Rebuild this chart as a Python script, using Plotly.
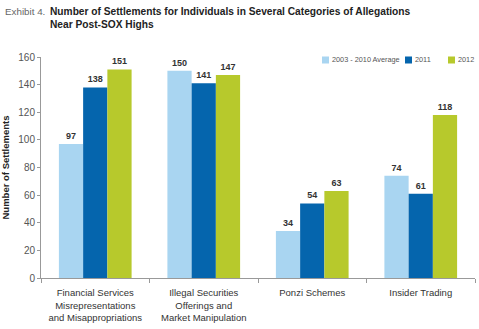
import plotly.graph_objects as go

categories = ["Financial Services<br>Misrepresentations<br>and Misappropriations",
              "Illegal Securities<br>Offerings and<br>Market Manipulation",
              "Ponzi Schemes", "Insider Trading"]
series_names = ["2003 - 2010 Average", "2011", "2012"]
avg_vals = [97, 150, 34, 74]
y2011_vals = [138, 141, 54, 61]
y2012_vals = [151, 147, 63, 118]
colors = ["#a9d5f1", "#0565ad", "#b7c92c"]

W, H = 479, 329
L, R, T, B = 41, 4, 57, 51
PW, PH = W - L - R, H - T - B

def px(x):
    return (x - L) / PW

def py(y):
    return (H - B - y) / PH

fig = go.Figure()
for name, vals, c in zip(series_names, [avg_vals, y2011_vals, y2012_vals], colors):
    fig.add_trace(go.Bar(
        x=categories, y=vals, name=name, marker=dict(color=c, line=dict(width=0)),
        text=[f"<b>{v}</b>" for v in vals], textposition="outside",
        textfont=dict(size=9, color="#333333", family="Liberation Sans"),
        cliponaxis=False, showlegend=False,
    ))

fig.update_layout(
    width=W, height=H,
    margin=dict(l=L, r=R, t=T, b=B),
    paper_bgcolor="white", plot_bgcolor="white",
    barmode="group", bargap=0.33, bargroupgap=0,
    font=dict(family="Liberation Sans", color="#333333"),
    showlegend=False,
)
fig.update_xaxes(
    showline=True, linecolor="#999999", linewidth=1,
    ticks="outside", tickson="boundaries", ticklen=4, tickcolor="#999999",
    tickfont=dict(size=9.5, color="#333333"), ticklabelstandoff=6,
)
fig.update_yaxes(
    range=[0, 160], dtick=20, showgrid=False, zeroline=False,
    showline=True, linecolor="#999999", linewidth=1,
    ticks="outside", ticklen=3, tickcolor="#999999",
    tickfont=dict(size=10, color="#555555"),
    title=dict(text="<b>Number of Settlements</b>", font=dict(size=9.5, color="#222222"), standoff=6),
)

# custom compact legend (top right)
leg_x = [322, 405, 448]
for name, c, lx in zip(series_names, colors, leg_x):
    fig.add_shape(type="rect", xref="paper", yref="paper",
                  x0=px(lx), x1=px(lx + 7), y0=py(63.5), y1=py(56.5),
                  fillcolor=c, line=dict(width=0))
    fig.add_annotation(xref="paper", yref="paper", x=px(lx + 8), y=py(60),
                       xanchor="left", yanchor="middle", showarrow=False,
                       text=name, font=dict(size=7.3, color="#555555"))

fig.add_annotation(xref="paper", yref="paper", x=px(3), y=py(4),
                   xanchor="left", yanchor="top", showarrow=False,
                   text="Exhibit 4.", font=dict(size=9.8, color="#666666"))
fig.add_annotation(xref="paper", yref="paper", x=px(48), y=py(4),
                   xanchor="left", yanchor="top", showarrow=False, align="left",
                   text="<b>Number of Settlements for Individuals in Several Categories of Allegations<br>Near Post-SOX Highs</b>",
                   font=dict(size=10.2, color="#222222"))

fig.write_html("out.html")
